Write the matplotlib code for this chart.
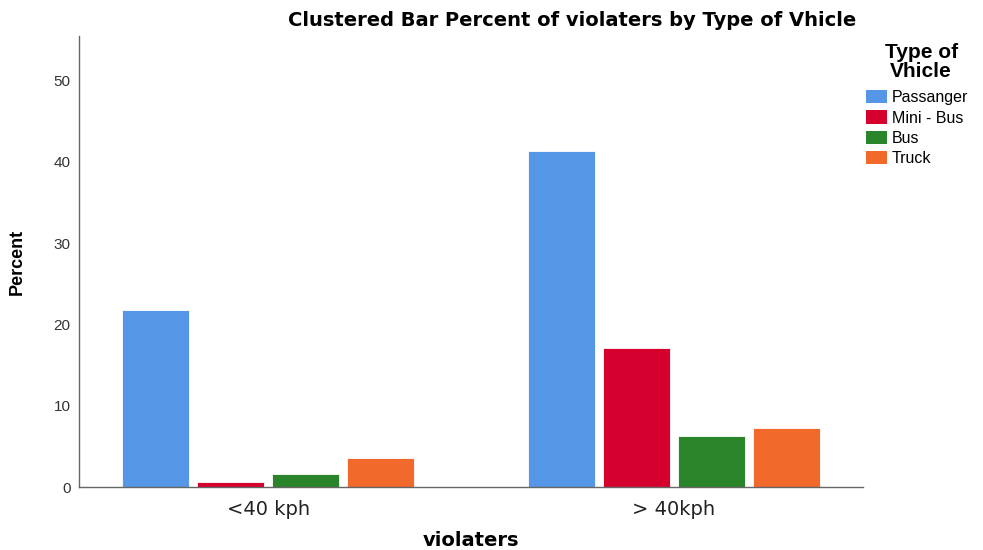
import matplotlib
matplotlib.use("Agg")
import matplotlib.pyplot as plt
from matplotlib.patches import Patch
import numpy as np

plt.rcParams['font.family'] = ['Liberation Sans', 'DejaVu Sans']

categories = ["<40 kph", "> 40kph"]
series_names = ["Passanger", "Mini - Bus", "Bus", "Truck"]
passanger = [21.8, 41.3]
mini_bus = [0.6, 17.1]
bus = [1.6, 6.3]
truck = [3.6, 7.3]
colors = ["#5596E6", "#D6002F", "#2A8429", "#F2692C"]
y_ticks = [0, 10, 20, 30, 40, 50]

fig = plt.figure(figsize=(9.83, 5.5), dpi=100)
ax = fig.add_axes([0.0804, 0.1145, 0.7976, 0.82])

x = np.arange(len(categories))
width = 0.165
step = 0.185
all_series = [passanger, mini_bus, bus, truck]
for i, (vals, c) in enumerate(zip(all_series, colors)):
    ax.bar(x + (i - 1.5) * step, vals, width=width, color=c,
           edgecolor='white', linewidth=0.6, label=series_names[i])

ax.set_xlim(-0.466, 1.466)
ax.set_ylim(0, 55.5)
ax.set_yticks(y_ticks)
ax.set_yticklabels([str(t) for t in y_ticks], fontsize=11, color='#333333')
ax.set_xticks(x)
ax.set_xticklabels(categories, fontsize=14, color='#222222', family='DejaVu Sans')
ax.tick_params(axis='both', length=0)
ax.tick_params(axis='y', pad=6)
ax.tick_params(axis='x', pad=9)
for s in ['top', 'right']:
    ax.spines[s].set_visible(False)
for s in ['left', 'bottom']:
    ax.spines[s].set_color('#666666')
    ax.spines[s].set_linewidth(1.0)

ax.set_xlabel("violaters", fontsize=14, fontweight='bold', labelpad=9,
              family='DejaVu Sans')
ax.set_ylabel("Percent", fontsize=13, fontweight='bold', labelpad=20)

fig.text(0.582, 0.962, "Clustered Bar Percent of violaters by Type of Vhicle",
         ha='center', va='center', fontsize=14, fontweight='bold',
         family='DejaVu Sans')

fig.text(0.937, 0.888, "Type of\nVhicle", ha='center', va='center',
         fontsize=15, fontweight='bold', linespacing=1.0)

handles = [Patch(facecolor=c, edgecolor='none') for c in colors]
leg = fig.legend(handles, series_names, loc='upper left',
                 bbox_to_anchor=(0.881, 0.836), frameon=False,
                 fontsize=11.5, handlelength=1.3, handleheight=0.9,
                 handletextpad=0.3, labelspacing=0.32,
                 borderpad=0, borderaxespad=0)

fig.savefig("out.png", dpi=100)
